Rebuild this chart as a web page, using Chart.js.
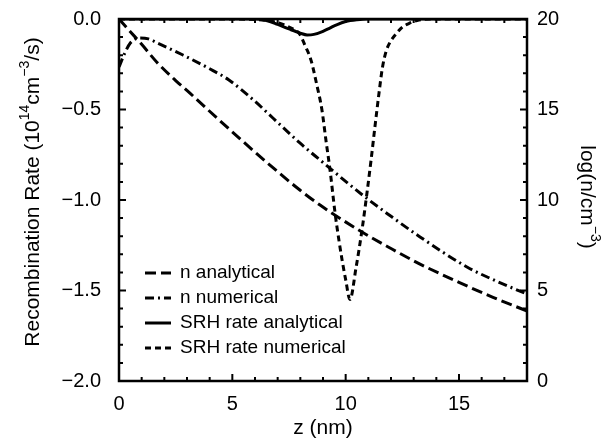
<!DOCTYPE html>
<html lang="en">
<head>
    <meta charset="UTF-8">
    <title>Recombination rate and carrier density vs z</title>
    <script src="https://cdn.jsdelivr.net/npm/chart.js"></script>
    <style>
        html, body { margin: 0; padding: 0; background: #fff; }
        .chart-box { width: 614px; height: 446px; }
    </style>
</head>
<body>
    <div class="chart-box"><canvas id="grafik"></canvas></div>

    <script>
        // log(n) curves, right axis
        const zNAnalytical = [0, 0.5, 1.0, 1.68, 2.5, 3.13, 4.32, 5.5, 6.5, 7.98, 8.87, 10.72, 12.0, 13.28, 15.0, 16.5, 18];
        const nAnalytical  = [20, 19.3, 18.6, 17.6, 16.6, 15.9, 14.53, 13.2, 12.1, 10.55, 9.72, 8.23, 7.32, 6.46, 5.45, 4.62, 3.87];
        const zNNumerical  = [0, 0.25, 0.5, 0.9, 1.3, 1.7, 2.82, 4.0, 4.85, 6.0, 6.79, 7.98, 8.87, 10.85, 12.0, 13.28, 15.35, 16.5, 18];
        const nNumerical   = [17.35, 18.1, 18.67, 18.95, 18.9, 18.67, 18.01, 17.25, 16.63, 15.45, 14.53, 13.15, 12.21, 10.17, 9.1, 7.96, 6.3, 5.6, 4.8];

        // SRH recombination rate (10^14 cm^-3/s), left axis
        const zSrhAnalytical = [0, 6.0, 6.5, 7.0, 7.5, 8.0, 8.3, 8.6, 9.0, 9.3, 9.6, 10.0, 10.5, 11.0, 18];
        const srhAnalytical  = [0, 0, -0.008, -0.03, -0.055, -0.078, -0.088, -0.085, -0.068, -0.05, -0.032, -0.014, -0.004, 0, 0];
        const zSrhNumerical  = [0, 5.0, 6.0, 6.5, 7.0, 7.5, 7.98, 8.22, 8.47, 8.72, 8.95, 9.13, 9.31, 9.53, 9.7, 9.84, 10.0, 10.19,
                                10.45, 10.72, 10.94, 11.12, 11.29, 11.47, 11.62, 11.78, 11.95, 12.26, 12.5, 12.84, 13.15, 13.5, 14.0, 18];
        const srhNumerical   = [0, 0, -0.003, -0.008, -0.02, -0.045, -0.085, -0.15, -0.227, -0.36, -0.50, -0.67, -0.834, -1.07, -1.22, -1.33, -1.44, -1.55,
                                -1.38, -1.166, -0.961, -0.78, -0.597, -0.41, -0.27, -0.18, -0.13, -0.077, -0.045, -0.022, -0.008, -0.002, 0, 0];

        const seriesLabels = ['n analytical', 'n numerical', 'SRH rate analytical', 'SRH rate numerical'];
        const xTicks  = [0, 5, 10, 15];
        const yTicks  = [-2, -1.5, -1, -0.5, 0];
        const y1Ticks = [0, 5, 10, 15, 20];

        const FONT = '"Liberation Sans", Arial, Helvetica, sans-serif';
        Chart.defaults.font.family = FONT;
        Chart.defaults.color = '#000';

        const pts = (xs, ys) => xs.map((x, i) => ({ x: x, y: ys[i] }));
        const asTicks = arr => arr.map(v => ({ value: v }));

        // frame + inward ticks (major and minor) on all four sides
        const frameTicks = {
            id: 'frameTicks',
            afterDatasetsDraw(chart) {
                const { ctx, chartArea: a, scales } = chart;
                ctx.save();
                ctx.strokeStyle = '#000';
                ctx.lineWidth = 2.5;
                ctx.setLineDash([]);
                ctx.strokeRect(a.left, a.top, a.right - a.left, a.bottom - a.top);
                ctx.lineWidth = 2;
                ctx.beginPath();
                for (let v = 0; v <= 18; v++) {
                    const x = scales.x.getPixelForValue(v);
                    const len = v % 5 === 0 ? 7 : 4;
                    ctx.moveTo(x, a.bottom); ctx.lineTo(x, a.bottom - len);
                    ctx.moveTo(x, a.top); ctx.lineTo(x, a.top + 4);
                }
                for (let i = 0; i <= 20; i++) {
                    const y = scales.y.getPixelForValue(-i / 10);
                    const len = i % 5 === 0 ? 7 : 4;
                    ctx.moveTo(a.left, y); ctx.lineTo(a.left + len, y);
                }
                for (let v = 0; v <= 20; v++) {
                    const y = scales.y1.getPixelForValue(v);
                    const len = v % 5 === 0 ? 7 : 4;
                    ctx.moveTo(a.right, y); ctx.lineTo(a.right - len, y);
                }
                ctx.stroke();
                ctx.restore();
            }
        };

        // legend inside the plot, lower left
        const legendBox = {
            id: 'legendBox',
            afterDraw(chart) {
                const { ctx, chartArea: a } = chart;
                ctx.save();
                ctx.font = '19px ' + FONT;
                ctx.fillStyle = '#000';
                ctx.strokeStyle = '#000';
                ctx.textBaseline = 'middle';
                chart.data.datasets.forEach((ds, i) => {
                    const y = a.top + 254 + i * 25;
                    const x0 = a.left + 26;
                    ctx.lineWidth = ds.borderWidth;
                    ctx.setLineDash(ds.borderDash || []);
                    ctx.beginPath();
                    ctx.moveTo(x0, y);
                    ctx.lineTo(x0 + 26, y);
                    ctx.stroke();
                    ctx.setLineDash([]);
                    ctx.fillText(ds.label, x0 + 35, y);
                });
                ctx.restore();
            }
        };

        // rotated axis titles with superscripts
        function drawRich(ctx, parts) {
            const big = '21px ' + FONT, small = '14px ' + FONT;
            let total = 0;
            parts.forEach(p => { ctx.font = p[1] ? small : big; total += ctx.measureText(p[0]).width; });
            let x = -total / 2;
            ctx.textBaseline = 'middle';
            ctx.textAlign = 'left';
            parts.forEach(p => {
                ctx.font = p[1] ? small : big;
                ctx.fillText(p[0], x, p[1] ? -8 : 0);
                x += ctx.measureText(p[0]).width;
            });
        }
        const sideTitles = {
            id: 'sideTitles',
            afterDraw(chart) {
                const { ctx, chartArea: a } = chart;
                const cy = (a.top + a.bottom) / 2;
                ctx.save();
                ctx.fillStyle = '#000';
                ctx.translate(a.left - 86, cy - 8);
                ctx.rotate(-Math.PI / 2);
                drawRich(ctx, [['Recombination Rate (10', 0], ['14', 1], ['cm', 0], ['\u22123', 1], ['/s)', 0]]);
                ctx.restore();
                ctx.save();
                ctx.fillStyle = '#000';
                ctx.translate(a.right + 60, cy - 3);
                ctx.rotate(Math.PI / 2);
                drawRich(ctx, [['log(n/cm', 0], ['\u22123', 1], [')', 0]]);
                ctx.restore();
            }
        };

        // pin the plot box: fixed axis sizes, no extra label padding
        const fixW = w => s => { s.width = w; s.paddingTop = 0; s.paddingBottom = 0; };

        const ctx = document.getElementById('grafik').getContext('2d');
        new Chart(ctx, {
            type: 'line',
            data: {
                datasets: [{
                    label: seriesLabels[0],
                    data: pts(zNAnalytical, nAnalytical),
                    yAxisID: 'y1',
                    borderColor: '#000',
                    borderWidth: 3,
                    borderDash: [11, 5]
                }, {
                    label: seriesLabels[1],
                    data: pts(zNNumerical, nNumerical),
                    yAxisID: 'y1',
                    borderColor: '#000',
                    borderWidth: 3,
                    borderDash: [9, 4, 2, 4]
                }, {
                    label: seriesLabels[2],
                    data: pts(zSrhAnalytical, srhAnalytical),
                    yAxisID: 'y',
                    borderColor: '#000',
                    borderWidth: 3
                }, {
                    label: seriesLabels[3],
                    data: pts(zSrhNumerical, srhNumerical),
                    yAxisID: 'y',
                    borderColor: '#000',
                    borderWidth: 3,
                    borderDash: [6, 4]
                }]
            },
            options: {
                responsive: true,
                maintainAspectRatio: false,
                animation: false,
                layout: { padding: { top: 19, left: 0, right: 0, bottom: 0 } },
                elements: {
                    point: { radius: 0 },
                    line: { cubicInterpolationMode: 'monotone', fill: false }
                },
                plugins: {
                    legend: { display: false },
                    tooltip: { enabled: false }
                },
                scales: {
                    x: {
                        type: 'linear',
                        min: 0,
                        max: 18,
                        afterBuildTicks: s => { s.ticks = asTicks(xTicks); },
                        afterFit: s => { s.height = 65; s.paddingLeft = 0; s.paddingRight = 0; },
                        grid: { display: false, drawTicks: false },
                        border: { display: false },
                        ticks: { font: { size: 20 }, padding: 11, maxRotation: 0 },
                        title: { display: true, text: 'z (nm)', font: { size: 21 }, padding: { top: 0, bottom: 5 } }
                    },
                    y: {
                        position: 'left',
                        min: -2,
                        max: 0,
                        afterBuildTicks: s => { s.ticks = asTicks(yTicks); },
                        afterFit: fixW(119),
                        grid: { display: false, drawTicks: false },
                        border: { display: false },
                        ticks: {
                            font: { size: 20 },
                            padding: 18,
                            callback: v => v.toFixed(1).replace('-', '\u2212')
                        }
                    },
                    y1: {
                        position: 'right',
                        min: 0,
                        max: 20,
                        afterBuildTicks: s => { s.ticks = asTicks(y1Ticks); },
                        afterFit: fixW(87),
                        grid: { display: false, drawTicks: false },
                        border: { display: false },
                        ticks: { font: { size: 20 }, padding: 10 }
                    }
                }
            },
            plugins: [frameTicks, legendBox, sideTitles]
        });
    </script>
</body>
</html>
